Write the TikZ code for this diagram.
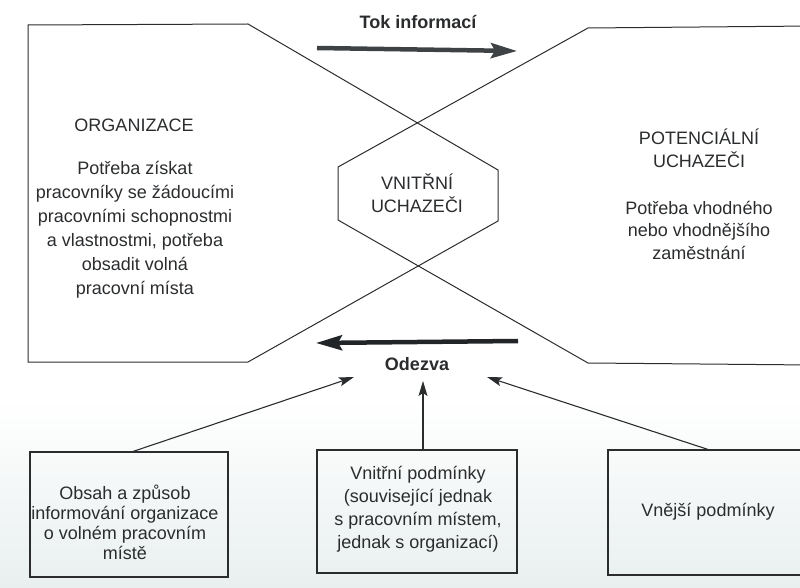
\documentclass[tikz,border=0pt]{standalone}
\usepackage{fontspec}
\setmainfont{Liberation Sans}
\usetikzlibrary{arrows.meta,calc}
\definecolor{ink}{HTML}{2A2C2E}
\definecolor{arrowgray}{HTML}{3E4245}
\definecolor{arrowdark}{HTML}{222528}
\definecolor{tint}{HTML}{E9EFEF}
\begin{document}
\begin{tikzpicture}[x=1pt,y=-1pt,
  txt/.style={font=\fontsize{18}{23}\selectfont, align=center, text=ink, inner sep=0pt},
  ttl/.style={font=\bfseries\fontsize{18}{22}\selectfont, text=ink, inner sep=0pt},
  outline/.style={draw=ink, line width=1pt, line join=miter},
  boxframe/.style={draw=ink, line width=1.1pt, inner sep=0pt},
  thickarrow/.style={line width=4.5pt, -{Stealth[length=26pt,width=15pt,inset=4pt]}},
  thinarrow/.style={draw=ink, line width=1.1pt, -{Stealth[length=15pt,width=9pt,inset=3pt]}}
]
\useasboundingbox (0,0) rectangle (800,588);
\clip (0,0) rectangle (800,588);

% faint scan tint at the bottom
\shade[top color=white, bottom color=tint, draw=none] (0,400) rectangle (800,588);

% the two crossing shapes forming the hexagon
\draw[outline] (28,25) -- (248,24) -- (498,170) -- (498,221) -- (248,362) -- (28,362) -- cycle;
\draw[outline] (812,26) -- (588,28) -- (338,167) -- (338,220) -- (588,363) -- (812,365);

% titles
\node[ttl] (tok) at (418,22) {Tok informací};
\node[ttl] (odezva) at (417,364) {Odezva};

% thick arrows
\coordinate (tokA) at (317,48);
\coordinate (tokB) at (517,51);
\draw[thickarrow, draw=arrowgray, fill=arrowgray] (tokA) -- (tokB);
\coordinate (odA) at (518,341);
\coordinate (odB) at (316,343);
\draw[thickarrow, draw=arrowdark, fill=arrowdark] (odA) -- (odB);

% texts in the shapes
\node[txt] (org) at (134,125) {ORGANIZACE};
\node[txt, font=\fontsize{18}{24}\selectfont] (orgtxt) at (135,230)
  {Potřeba získat\\pracovníky se žádoucími\\pracovními schopnostmi\\a vlastnostmi, potřeba\\obsadit volná\\pracovní místa};
\node[txt] (hex) at (417,193.5) {VNITŘNÍ\\UCHAZEČI};
\node[txt] (pot) at (699,148.5) {POTENCIÁLNÍ\\UCHAZEČI};
\node[txt, font=\fontsize{18}{22.5}\selectfont] (pottxt) at (699,230)
  {Potřeba vhodného\\nebo vhodnějšího\\zaměstnání};

% bottom boxes
\node[boxframe, minimum width=198pt, minimum height=125pt] (b1) at (129,514.5) {};
\node[boxframe, minimum width=200pt, minimum height=123pt] (b2) at (417,511.5) {};
\node[boxframe, minimum width=200pt, minimum height=125pt] (b3) at (708,512.5) {};
\node[txt, font=\fontsize{18}{20}\selectfont] (t1) at (125,522)
  {Obsah a způsob\\informování organizace\\o volném pracovním\\místě};
\node[txt] (t2) at (418,509)
  {Vnitřní podmínky\\(související jednak\\s pracovním místem,\\jednak s organizací)};
\node[txt] (t3) at (708,512) {Vnější podmínky};

% arrows to Odezva
\coordinate (odL) at (354,377);
\coordinate (odM) at (423,381);
\coordinate (odR) at (487,377);
\draw[thinarrow] ([xshift=4pt]b1.north) -- (odL);
\draw[thinarrow] ([xshift=6pt]b2.north) -- (odM);
\draw[thinarrow] (b3.north) -- (odR);
\end{tikzpicture}
\end{document}
